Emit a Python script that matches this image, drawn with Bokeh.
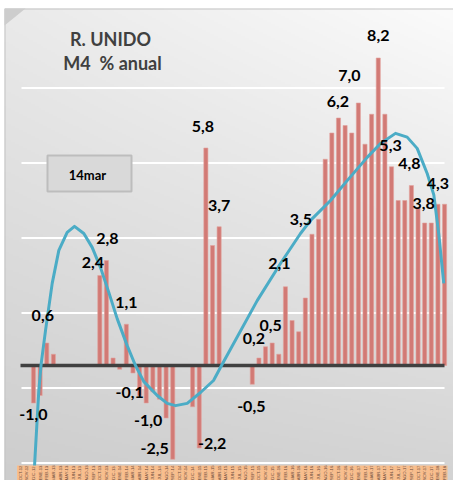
import numpy as np
from bokeh.plotting import figure
from bokeh.models import Range1d, ColumnDataSource
from bokeh.embed import file_html
from bokeh.resources import INLINE
from bokeh.core.properties import value

# ---- data: UK M4 money supply, annual % change (monthly) ----
months = [
    "OCT-12", "NOV-12", "DIC-12", "ENE-13", "FEB-13", "MAR-13", "ABR-13", "MAY-13", "JUN-13", "JUL-13", "AGO-13", "SEP-13",
    "OCT-13", "NOV-13", "DIC-13", "ENE-14", "FEB-14", "MAR-14", "ABR-14", "MAY-14", "JUN-14", "JUL-14", "AGO-14", "SEP-14",
    "OCT-14", "NOV-14", "DIC-14", "ENE-15", "FEB-15", "MAR-15", "ABR-15", "MAY-15", "JUN-15", "JUL-15", "AGO-15", "SEP-15",
    "OCT-15", "NOV-15", "DIC-15", "ENE-16", "FEB-16", "MAR-16", "ABR-16", "MAY-16", "JUN-16", "JUL-16", "AGO-16", "SEP-16",
    "OCT-16", "NOV-16", "DIC-16", "ENE-17", "FEB-17", "MAR-17", "ABR-17", "MAY-17", "JUN-17", "JUL-17", "AGO-17", "SEP-17",
    "OCT-17", "NOV-17", "DIC-17", "ENE-18", "FEB-18",
]
m4_yoy = [
    None, None, -1.0, -0.8, 0.6, 0.3, None, None, None, None, None, None,
    2.4, 2.8, 0.2, -0.1, 1.1, -0.2, -0.8, -1.0, -0.7, -0.9, -1.4, -2.5,
    None, None, -1.1, -2.2, 5.8, 3.2, 3.7, None, None, None, None, -0.5,
    0.2, 0.5, 0.6, 0.3, 2.1, 1.2, 0.9, 1.8, 3.5, 3.9, 5.5, 6.2,
    6.6, 6.4, 6.2, 7.0, 5.9, 6.7, 8.2, 6.7, 5.3, 4.4, 4.4, 4.8,
    4.2, 3.8, 3.8, 4.3, 4.3,
]
# polynomial trend curve, sampled along the month axis (position, value)
trend_pos = [2.15, 2.80, 3.16, 3.81, 4.82, 5.82, 7.08, 8.18, 9.59, 10.85, 12.11, 13.36,
             14.62, 16.13, 17.38, 18.64, 20.66, 22.17, 23.42, 25.18, 27.19, 29.15, 30.36,
             35.74, 39.25, 42.27, 43.79, 46.80, 49.31, 52.33, 54.34, 56.60, 58.36, 59.87,
             61.38, 62.38, 63.13, 63.88]
trend_val = [-2.69, -0.67, 0.05, 0.93, 2.19, 3.07, 3.55, 3.71, 3.52, 3.15, 2.61, 1.95,
             1.25, 0.53, 0.00, -0.43, -0.80, -1.01, -1.07, -1.01, -0.72, -0.40, 0.00,
             1.73, 2.72, 3.52, 3.87, 4.40, 4.93, 5.55, 5.92, 6.19, 6.09, 5.79,
             5.12, 4.55, 3.50, 2.19]
# months whose value is printed above / below the bar
labelled = [2, 4, 12, 13, 15, 16, 19, 23, 27, 28, 30, 35, 36, 37, 40, 44, 47, 51, 54, 56, 59, 61, 63]
grid_levels = [-2.6, -0.6, 1.4, 3.4, 5.4, 7.4]

# label nudges in screen pixels (dx, dy), dy positive = downwards
label_nudge = [(0, 11.5), (-4, -27.5), (-7, -13), (1, -22), (10, 23), (0, -22), (2, 17.5),
               (-18, -11), (13, -5), (-3, -21.5), (0, -21), (-1, 22), (-5, -19.5), (5, -21),
               (-6, -23), (-11, -15), (6, -32), (-9, -27.5), (0, -22.5), (-1, -21), (-2, -22),
               (-1, -20), (0, -21)]

# ---- page geometry ----
W, H = 453, 480
CAT_PX = 6.63       # width of one month slot
X0_PX = 19.74       # centre of the first month slot
ZERO_PX = 365.0     # screen row of the zero line
UNIT_PX = 37.5      # pixels per percentage point


def xd(px):
    return (px - X0_PX) / CAT_PX


def yd(py):
    return (ZERO_PX - py) / UNIT_PX


p = figure(width=W, height=H, output_backend="svg", toolbar_location=None,
           x_range=Range1d(xd(0), xd(W)), y_range=Range1d(yd(H), yd(0)),
           x_axis_location=None, y_axis_location=None, min_border=0,
           background_fill_color="white", border_fill_color="white",
           outline_line_color=None)
p.grid.visible = False

# soft grey gradient behind the chart: light at top-right, darker at bottom-left
nx, ny = 226, 236
u = np.linspace(1.0, 0.0, nx)[None, :]
w = np.linspace(1.0, 0.0, ny)[:, None]
TR, TL, BR, BL = 251.0, 234.0, 211.0, 205.0
shade = TR + (TL - TR) * u + (BR - TR) * w + (BL - TL - BR + TR) * u * w
img = np.empty((ny, nx), dtype=np.uint32)
view = img.view(dtype=np.uint8).reshape((ny, nx, 4))
view[:, :, 0] = shade.astype(np.uint8)
view[:, :, 1] = shade.astype(np.uint8)
view[:, :, 2] = shade.astype(np.uint8)
view[:, :, 3] = 255
p.image_rgba(image=[img], x=xd(4), y=yd(H), dw=xd(W) - xd(4), dh=yd(8) - yd(H))

# frame edge and bevelled corner
p.line(x=[xd(4.5), xd(4.5), xd(W)], y=[yd(H), yd(8.5), yd(8.5)], line_color="#c4c4c4", line_width=1)
p.patch(x=[xd(4), xd(25), xd(4)], y=[yd(8), yd(8), yd(25)], fill_color="#cdcdcd", line_color=None)

# white horizontal gridlines
p.segment(x0=[xd(21)] * len(grid_levels), x1=[xd(444)] * len(grid_levels),
          y0=grid_levels, y1=grid_levels, line_color="white", line_width=2.2)

# bars
idx = [i for i, v in enumerate(m4_yoy) if v is not None]
vals = [m4_yoy[i] for i in idx]
bars = ColumnDataSource(dict(x=idx, top=vals))
p.vbar(x="x", top="top", bottom=0, width=0.62, source=bars,
       fill_color="#d27a75", line_color="#e2a29e", line_width=0.6)

# zero line
p.segment(x0=[xd(20)], x1=[xd(444)], y0=[0], y1=[0], line_color="#404040", line_width=3.5)

# trend curve
p.line(x=trend_pos, y=trend_val, line_color="#4bacc6", line_width=3, line_join="round")

# category strip with month labels
p.quad(left=[xd(16.5)], right=[xd(447)], bottom=[yd(H)], top=[yd(465)],
       fill_color="#f8be8e", line_color=None)
p.text(x=list(range(len(months))), y=[yd(472.5)] * len(months), text=months,
       angle=np.pi / 2, text_font=value("Liberation Sans"), text_font_size="4.2px",
       text_color="#6a4a3a", text_align="center", text_baseline="middle")

# value labels
lab = ColumnDataSource(dict(
    x=labelled,
    y=[m4_yoy[i] for i in labelled],
    text=[f"{m4_yoy[i]:.1f}".replace(".", ",") for i in labelled],
    dx=[d[0] for d in label_nudge],
    dy=[d[1] for d in label_nudge],
))
p.text(x="x", y="y", text="text", x_offset="dx", y_offset="dy", source=lab,
       text_font=value("Lato"), text_font_style="bold", text_font_size="16px",
       text_color="black", text_align="center", text_baseline="middle")

# title
p.text(x=[xd(110)], y=[yd(38)], text=["R. UNIDO"], text_font=value("Lato"),
       text_font_style="bold", text_font_size="18px", text_color="#404040",
       text_align="center", text_baseline="middle")
p.text(x=[xd(112)], y=[yd(62)], text=["M4\u00a0 % anual"], text_font=value("Lato"),
       text_font_style="bold", text_font_size="18px", text_color="#404040",
       text_align="center", text_baseline="middle")

# date box
p.quad(left=[xd(47)], right=[xd(131)], bottom=[yd(191)], top=[yd(155)],
       fill_color="#d9d9d9", line_color="#bdbdbd", line_width=2)
p.text(x=[xd(87)], y=[yd(174)], text=["14mar"], text_font=value("Lato"),
       text_font_style="bold", text_font_size="13px", text_color="black",
       text_align="center", text_baseline="middle")

open("out.html", "w").write(file_html(p, INLINE))
